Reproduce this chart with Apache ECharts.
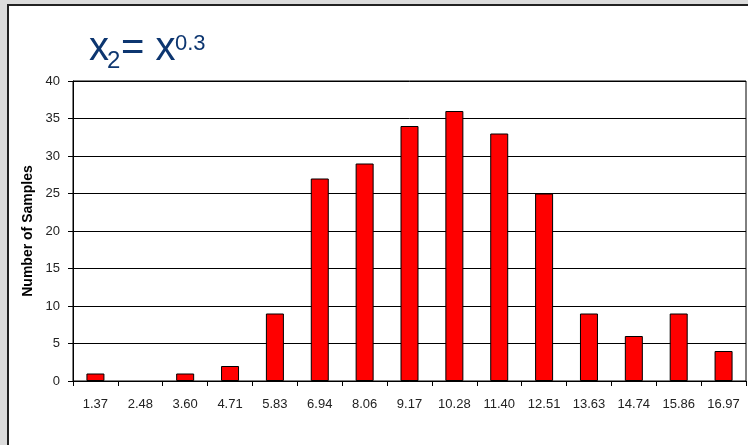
<!DOCTYPE html>
<html><head><meta charset="utf-8">
<script src="https://cdn.jsdelivr.net/npm/echarts@6/dist/echarts.min.js"></script>
<style>html,body{margin:0;padding:0;background:#dcdcdc;}#c{width:748px;height:445px;}</style>
</head><body><div id="c"></div>
<script>
const categories = ['1.37','2.48','3.60','4.71','5.83','6.94','8.06','9.17','10.28','11.40','12.51','13.63','14.74','15.86','16.97'];
const samples = [1,0,1,2,9,27,29,34,36,33,25,9,6,9,4];
const yTicks = {min:0, max:40, interval:5};
const yName = 'Number of Samples';

const chart = echarts.init(document.getElementById('c'), null, {renderer:'canvas'});
const F = 'Liberation Sans, Arial, sans-serif';
const navy = '#0d3670';
chart.setOption({
  backgroundColor:'#dcdcdc',
  animation:false,
  graphic:[
    {type:'rect', z:-10, shape:{x:8,y:5,width:800,height:500}, style:{fill:'#fff', stroke:'#222', lineWidth:2}},
    {type:'text', left:89, top:29, style:{text:'x', font:'40px '+F, fill:navy}},
    {type:'text', left:107, top:49, style:{text:'2', font:'24px '+F, fill:navy}},
    {type:'text', left:121, top:29, style:{text:'= x', font:'40px '+F, fill:navy}},
    {type:'text', left:175, top:33, style:{text:'0.3', font:'22px '+F, fill:navy}}
  ],
  grid:{left:73, right:2, top:81, bottom:64, show:true, borderColor:'#000', borderWidth:1, backgroundColor:'transparent'},
  xAxis:{type:'category', data:categories,
    axisLine:{lineStyle:{color:'#000', width:1}},
    axisTick:{show:true, length:5, lineStyle:{color:'#000'}, alignWithLabel:false},
    axisLabel:{fontFamily:F, fontSize:13, color:'#222', margin:17, interval:0}},
  yAxis:{type:'value', min:yTicks.min, max:yTicks.max, interval:yTicks.interval,
    name:yName, nameLocation:'middle', nameGap:38, nameRotate:90, nameMoveOverlap:false,
    nameTextStyle:{fontFamily:F, fontSize:14, fontWeight:'bold', color:'#000'},
    axisLine:{show:true, lineStyle:{color:'#000', width:1}},
    axisTick:{show:true, length:5, lineStyle:{color:'#000'}},
    axisLabel:{fontFamily:F, fontSize:13, color:'#222', margin:13},
    splitLine:{lineStyle:{color:'#000', width:1}}},
  series:[{type:'bar', barWidth:18,
    data:samples.map(v => v === 0 ? {value:v, itemStyle:{borderWidth:0}} : v),
    itemStyle:{color:'#ff0000', borderColor:'#000', borderWidth:1}}]
});
</script></body></html>
